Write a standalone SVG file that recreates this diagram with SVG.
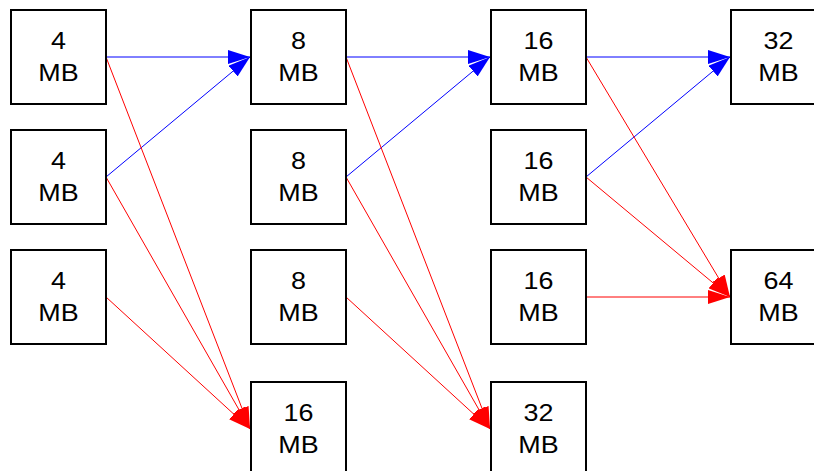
<svg xmlns="http://www.w3.org/2000/svg" width="814" height="471" viewBox="0 0 814 471">
<defs>
<style>
.box{fill:#fff;stroke:#000;stroke-width:2}
.t{font-family:"Liberation Sans",Arial,sans-serif;font-size:23px;fill:#000;text-anchor:middle}
.b{stroke:#0000ff;stroke-width:1;fill:none;marker-end:url(#ab)}
.r{stroke:#ff0000;stroke-width:1;fill:none;marker-end:url(#ar)}
</style>
<marker id="ab" markerUnits="userSpaceOnUse" markerWidth="22" markerHeight="14" refX="22" refY="7" orient="auto" viewBox="0 0 22 14"><path d="M0,0 L22,7 L0,14 z" fill="#0000ff"/></marker>
<marker id="ar" markerUnits="userSpaceOnUse" markerWidth="22" markerHeight="14" refX="22" refY="7" orient="auto" viewBox="0 0 22 14"><path d="M0,0 L22,7 L0,14 z" fill="#ff0000"/></marker>
</defs>
<rect width="814" height="471" fill="#fff"/>
<g id="connectors">
<line class="b" x1="106" y1="57" x2="250" y2="57"/>
<line class="b" x1="106" y1="177" x2="250" y2="57"/>
<line class="b" x1="346" y1="57" x2="490" y2="57"/>
<line class="b" x1="346" y1="177" x2="490" y2="57"/>
<line class="b" x1="586" y1="57" x2="730" y2="57"/>
<line class="b" x1="586" y1="177" x2="730" y2="57"/>
<line class="r" x1="106" y1="57" x2="250" y2="429"/>
<line class="r" x1="106" y1="177" x2="250" y2="429"/>
<line class="r" x1="106" y1="297" x2="250" y2="429"/>
<line class="r" x1="346" y1="57" x2="490" y2="429"/>
<line class="r" x1="346" y1="177" x2="490" y2="429"/>
<line class="r" x1="346" y1="297" x2="490" y2="429"/>
<line class="r" x1="586" y1="57" x2="730" y2="297"/>
<line class="r" x1="586" y1="177" x2="730" y2="297"/>
<line class="r" x1="586" y1="297" x2="730" y2="297"/>
</g>
<g id="a1"><rect class="box" x="11" y="10" width="95" height="94"/><text class="t" transform="matrix(1.17,0,0,1,58.5,0)"><tspan x="0" y="49">4</tspan><tspan x="0" y="81.5">MB</tspan></text></g>
<g id="a2"><rect class="box" x="11" y="130" width="95" height="94"/><text class="t" transform="matrix(1.17,0,0,1,58.5,0)"><tspan x="0" y="169">4</tspan><tspan x="0" y="201.5">MB</tspan></text></g>
<g id="a3"><rect class="box" x="11" y="250" width="95" height="94"/><text class="t" transform="matrix(1.17,0,0,1,58.5,0)"><tspan x="0" y="289">4</tspan><tspan x="0" y="321.5">MB</tspan></text></g>
<g id="b1"><rect class="box" x="251" y="10" width="95" height="94"/><text class="t" transform="matrix(1.17,0,0,1,298.5,0)"><tspan x="0" y="49">8</tspan><tspan x="0" y="81.5">MB</tspan></text></g>
<g id="b2"><rect class="box" x="251" y="130" width="95" height="94"/><text class="t" transform="matrix(1.17,0,0,1,298.5,0)"><tspan x="0" y="169">8</tspan><tspan x="0" y="201.5">MB</tspan></text></g>
<g id="b3"><rect class="box" x="251" y="250" width="95" height="94"/><text class="t" transform="matrix(1.17,0,0,1,298.5,0)"><tspan x="0" y="289">8</tspan><tspan x="0" y="321.5">MB</tspan></text></g>
<g id="b4"><rect class="box" x="251" y="382" width="95" height="94"/><text class="t" transform="matrix(1.17,0,0,1,298.5,0)"><tspan x="0" y="421">16</tspan><tspan x="0" y="453.5">MB</tspan></text></g>
<g id="c1"><rect class="box" x="491" y="10" width="95" height="94"/><text class="t" transform="matrix(1.17,0,0,1,538.5,0)"><tspan x="0" y="49">16</tspan><tspan x="0" y="81.5">MB</tspan></text></g>
<g id="c2"><rect class="box" x="491" y="130" width="95" height="94"/><text class="t" transform="matrix(1.17,0,0,1,538.5,0)"><tspan x="0" y="169">16</tspan><tspan x="0" y="201.5">MB</tspan></text></g>
<g id="c3"><rect class="box" x="491" y="250" width="95" height="94"/><text class="t" transform="matrix(1.17,0,0,1,538.5,0)"><tspan x="0" y="289">16</tspan><tspan x="0" y="321.5">MB</tspan></text></g>
<g id="c4"><rect class="box" x="491" y="382" width="95" height="94"/><text class="t" transform="matrix(1.17,0,0,1,538.5,0)"><tspan x="0" y="421">32</tspan><tspan x="0" y="453.5">MB</tspan></text></g>
<g id="d1"><rect class="box" x="731" y="10" width="95" height="94"/><text class="t" transform="matrix(1.17,0,0,1,778.5,0)"><tspan x="0" y="49">32</tspan><tspan x="0" y="81.5">MB</tspan></text></g>
<g id="d3"><rect class="box" x="731" y="250" width="95" height="94"/><text class="t" transform="matrix(1.17,0,0,1,778.5,0)"><tspan x="0" y="289">64</tspan><tspan x="0" y="321.5">MB</tspan></text></g>
</svg>
